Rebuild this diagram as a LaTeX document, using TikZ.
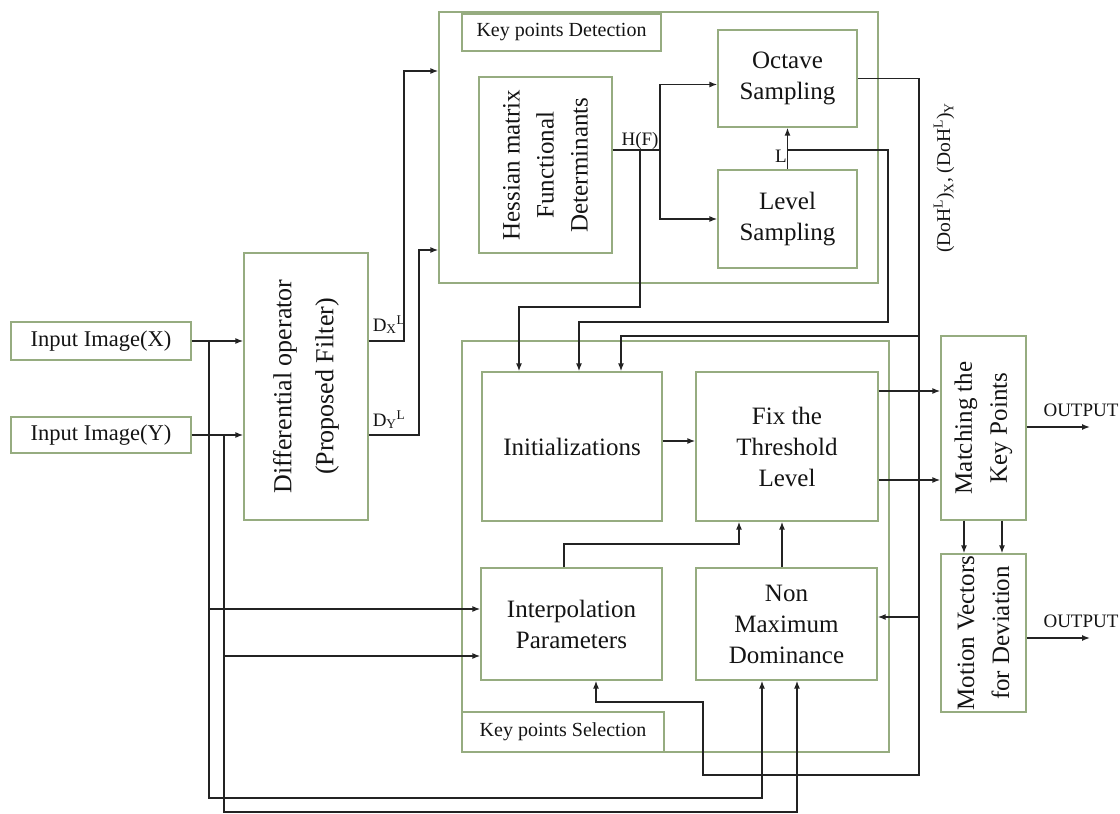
\documentclass[tikz,border=0pt]{standalone}
\usepackage{fontspec}
\setmainfont{Liberation Serif}
\usetikzlibrary{arrows.meta,calc}
\definecolor{boxgreen}{RGB}{150,172,128}
\definecolor{linegray}{RGB}{35,35,35}
\definecolor{textgray}{RGB}{20,20,20}
\newcommand\fmain{\fontsize{25}{31}\selectfont}
\newcommand\fin{\fontsize{22.5}{27}\selectfont}
\newcommand\fsm{\fontsize{20}{24}\selectfont}
\newcommand\flab{\fontsize{19}{22}\selectfont}
\tikzset{
  bx/.style 2 args={draw=boxgreen, line width=1.3pt, inner sep=0pt, align=center,
    minimum width=#1, minimum height=#2, text=textgray, font=\fmain},
  rlab/.style={rotate=90, align=center, text=textgray, inner sep=0pt},
  lab/.style={text=textgray, inner sep=0pt, font=\flab},
  conn/.style={draw=linegray, line width=1.4pt},
  arr/.style={conn, -{Latex[length=8pt,width=6pt]}}
}
\begin{document}
\begin{tikzpicture}[x=1pt,y=-1pt]
\useasboundingbox (0,0) rectangle (1120,814);
% boxes
\node[bx={180}{38}, font=\fin] (inx) at (101,341) {Input Image(X)};
\node[bx={180}{36}, font=\fin] (iny) at (101,435) {Input Image(Y)};
\node[bx={124}{267}, label={[rlab, font=\fontsize{26}{42}\selectfont]center:Differential operator\\(Proposed Filter)}] (diff) at (306,386.5) {};
\node[bx={439}{271}] (kpd) at (658.5,147.5) {};
\node[bx={199}{37}, font=\fsm] (kpdlab) at (561.5,32.5) {Key points Detection};
\node[bx={133}{176}, label={[rlab, font=\fontsize{25}{34}\selectfont]center:Hessian matrix\\Functional\\Determinants}] (hess) at (545.5,165) {};
\node[bx={139}{97}] (oct) at (787.5,78.5) {Octave\\Sampling};
\node[bx={139}{98}] (lev) at (787.5,219) {Level\\Sampling};
\node[bx={427}{411}] (kps) at (675.5,546.5) {};
\node[bx={202}{40}, font=\fsm] (kpslab) at (563,732) {Key points Selection};
\node[bx={180}{149}] (init) at (572,446.5) {Initializations};
\node[bx={182}{149}] (fix) at (787,446.5) {Fix the\\Threshold\\Level};
\node[bx={181}{112}] (interp) at (571.5,624) {Interpolation\\Parameters};
\node[bx={181}{112}] (nmd) at (786.5,624) {Non\\Maximum\\Dominance};
\node[bx={85}{184}, label={[rlab, font=\fontsize{25}{35}\selectfont]center:Matching the\\Key Points}] (match) at (983.5,428) {};
\node[bx={85}{158}, label={[rlab, font=\fontsize{25}{35}\selectfont]center:Motion Vectors\\for Deviation}] (motion) at (983.5,633) {};
% labels
\node[lab] (ldx) at (389,325) {D\textsubscript{X}\textsuperscript{L}};
\node[lab] (ldy) at (389,420) {D\textsubscript{Y}\textsuperscript{L}};
\node[lab] (lhf) at (640,141) {H(F)};
\node[lab] (ll) at (781,156) {L};
\node[lab] (lo1) at (1081,410) {OUTPUT};
\node[lab] (lo2) at (1081,621) {OUTPUT};
\node[lab, rotate=90, font=\fontsize{19.5}{22}\selectfont] (ldoh) at (944,178) {(DoH\textsuperscript{L})\textsubscript{X}, (DoH\textsuperscript{L})\textsubscript{Y}};
% coordinates
\coordinate (kx) at (404,71);
\coordinate (ky) at (419,250);
\coordinate (hf) at (660,150);
\coordinate (hfb) at (640,150);
\coordinate (xa) at (519,0);
\coordinate (ya) at (0,307);
\coordinate (lb) at (888,322);
\coordinate (xb) at (579,0);
\coordinate (oc1) at (919,775);
\coordinate (oc2) at (703,702);
\coordinate (xc) at (596,0);
\coordinate (oc3) at (919,336);
\coordinate (xd) at (621,0);
\coordinate (oc4) at (919,617);
\coordinate (yi) at (0,441);
\coordinate (y1) at (0,391);
\coordinate (y2) at (0,480);
\coordinate (xe) at (564,0);
\coordinate (ye) at (739,544);
\coordinate (xf) at (782,0);
\coordinate (xg) at (964,0);
\coordinate (xh) at (1002,0);
\coordinate (o1) at (1090,427);
\coordinate (o2) at (1090,638);
\coordinate (vx) at (209,798);
\coordinate (xi) at (762,0);
\coordinate (yx) at (0,609);
\coordinate (vy) at (224,812);
\coordinate (xj) at (797,0);
\coordinate (yy) at (0,656);
% connectors
\draw[arr] (inx.east) -- (inx.east -| diff.west);
\draw[arr] (iny.east) -- (iny.east -| diff.west);
\draw[arr] (inx.east -| diff.east) -| (kx) -- (kx -| kpd.west);
\draw[arr] (iny.east -| diff.east) -| (ky) -- (ky -| kpd.west);
\draw[conn] (hf -| hess.east) -- (hf);
\draw[arr] (hf) |- ($(oct.west)+(0,6)$);
\draw[arr] (hf) |- (lev.west);
\draw[arr] (hfb) |- (ya -| xa) -- (init.north -| xa);
\draw[arr] (lev.north) -- (oct.south);
\draw[arr] (lev.north |- hf) -| (lb) -| (init.north -| xb);
\draw[arr] (oct.east) -| (oc1) -| (oc2) -| (interp.south -| xc);
\draw[arr] (oc3) -| (init.north -| xd);
\draw[arr] (oc4) -- (oc4 -| nmd.east);
\draw[arr] (init.east |- yi) -- (fix.west |- yi);
\draw[arr] (fix.east |- y1) -- (match.west |- y1);
\draw[arr] (fix.east |- y2) -- (match.west |- y2);
\draw[arr] (interp.north -| xe) |- (ye) -- (fix.south -| ye);
\draw[arr] (nmd.north -| xf) -- (fix.south -| xf);
\draw[arr] (match.south -| xg) -- (motion.north -| xg);
\draw[arr] (match.south -| xh) -- (motion.north -| xh);
\draw[arr] (match.east |- o1) -- (o1);
\draw[arr] (motion.east |- o2) -- (o2);
\draw[arr] (vx |- inx.east) -- (vx) -| (nmd.south -| xi);
\draw[arr] (vx |- yx) -- (interp.west |- yx);
\draw[arr] (vy |- iny.east) -- (vy) -| (nmd.south -| xj);
\draw[arr] (vy |- yy) -- (interp.west |- yy);
\end{tikzpicture}
\end{document}
